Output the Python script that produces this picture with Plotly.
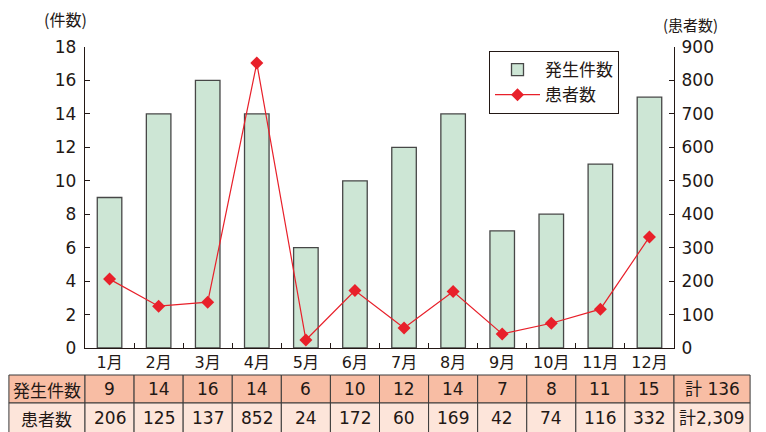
import plotly.graph_objects as go

months = ["1月", "2月", "3月", "4月", "5月", "6月", "7月", "8月", "9月", "10月", "11月", "12月"]
incidents = [9, 14, 16, 14, 6, 10, 12, 14, 7, 8, 11, 15]
patients = [206, 125, 137, 852, 24, 172, 60, 169, 42, 74, 116, 332]
row_labels = ["発生件数", "患者数"]
row_totals = ["計 136", "計2,309"]

FONT = "Noto Sans CJK JP"
NUMFONT = "DejaVu Sans, Noto Sans CJK JP"
TXT = "#231815"
W, H = 766, 432
ML, MR, MT, MB = 85, 92, 47, 84
PW, PH = W - ML - MR, H - MT - MB

fig = go.Figure()
fig.add_trace(go.Bar(
    x=months, y=incidents, name="発生件数", width=0.5,
    marker=dict(color="#cde6d5", line=dict(color="#474747", width=1.3)),
))
fig.add_trace(go.Scatter(
    x=months, y=patients, name="患者数", yaxis="y2", mode="lines+markers",
    line=dict(color="#e8202a", width=1.2),
    marker=dict(symbol="diamond", size=10, color="#e8202a"),
))

n = len(months)
def cx(i):
    # paper-x of category index i (range -0.5 .. n-0.5)
    return (i + 0.5) / n

def px_x(p):
    return (p - ML) / PW

def px_y(p):
    return (H - MB - p) / PH

side_w = 1.55  # width of label / total columns in category units
left_edge = cx(-0.5 - side_w)
right_edge = cx(n - 0.5 + side_w)
row_tops = [px_y(375), px_y(403)]
row_bots = [px_y(403), px_y(433)]
fills = ["#f8bda4", "#fde5da"]

shapes = []
annotations = []
rows = [incidents, patients]
for r in range(2):
    y0, y1 = row_bots[r], row_tops[r]
    ym = (y0 + y1) / 2
    edges = [left_edge] + [cx(i - 0.5) for i in range(n + 1)] + [right_edge]
    texts = [row_labels[r]] + [str(v) for v in rows[r]] + [row_totals[r]]
    for k in range(len(texts)):
        shapes.append(dict(type="rect", xref="paper", yref="paper",
                           x0=edges[k], x1=edges[k + 1], y0=y0, y1=y1,
                           fillcolor=fills[r], line=dict(color="#3a3a3a", width=1),
                           layer="above"))
        fam = FONT if k == 0 else NUMFONT
        annotations.append(dict(xref="paper", yref="paper",
                                x=(edges[k] + edges[k + 1]) / 2, y=ym,
                                text=texts[k], showarrow=False,
                                font=dict(family=fam, size=17, color=TXT),
                                xanchor="center", yanchor="middle"))

annotations.append(dict(xref="paper", yref="paper", x=px_x(65), y=px_y(19),
                        text="(件数)", showarrow=False,
                        font=dict(family=FONT, size=16, color=TXT),
                        xanchor="center", yanchor="middle"))
annotations.append(dict(xref="paper", yref="paper", x=px_x(690), y=px_y(24),
                        text="(患者数)", showarrow=False,
                        font=dict(family=FONT, size=15, color=TXT),
                        xanchor="center", yanchor="middle"))

axis_common = dict(showline=True, linecolor=TXT, linewidth=1.3,
                   ticks="inside", ticklen=5, tickcolor=TXT,
                   showgrid=False, zeroline=False)

fig.update_layout(
    width=W, height=H,
    margin=dict(l=ML, r=MR, t=MT, b=MB),
    paper_bgcolor="white", plot_bgcolor="white",
    font=dict(family=FONT, color=TXT),
    bargap=0.5,
    xaxis=dict(type="category", range=[-0.5, n - 0.5], tickson="boundaries",
               tickfont=dict(size=16, family=NUMFONT), **axis_common),
    yaxis=dict(range=[0, 18], dtick=2, tickfont=dict(size=17, family=NUMFONT),
               ticklabelstandoff=4, **axis_common),
    yaxis2=dict(range=[0, 900], dtick=100, overlaying="y", side="right",
                tickfont=dict(size=17, family=NUMFONT), ticklabelstandoff=3,
                **axis_common),
    legend=dict(x=px_x(489), y=px_y(51), xanchor="left", yanchor="top",
                bordercolor=TXT, borderwidth=1, bgcolor="white",
                font=dict(size=17, family=FONT), tracegroupgap=0,
                itemwidth=45),
    showlegend=True,
    shapes=shapes,
    annotations=annotations,
)

fig.write_html("out.html")
